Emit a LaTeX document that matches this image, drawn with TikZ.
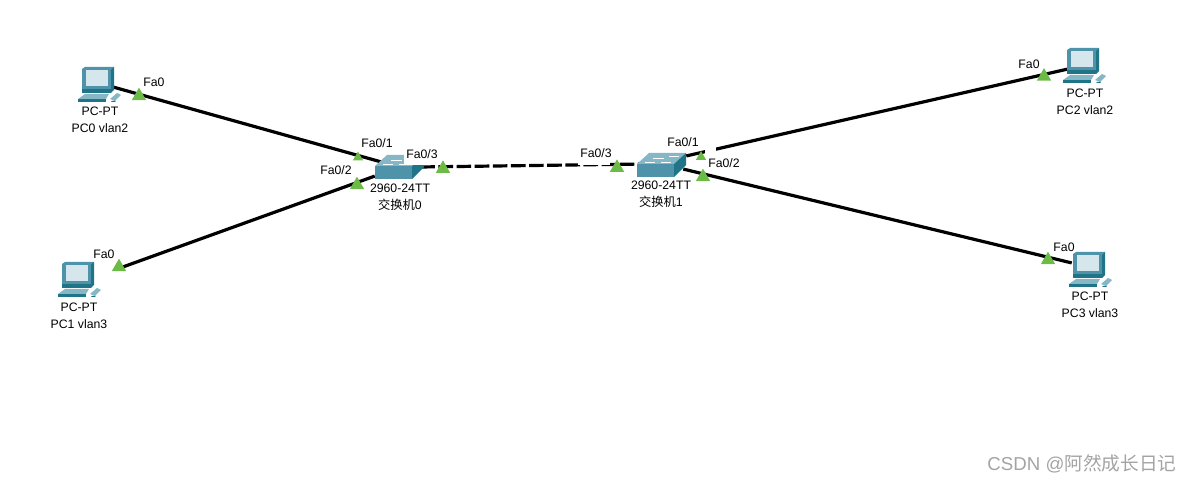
\documentclass[tikz,border=0pt]{standalone}
\usepackage{fontspec}
\setmainfont{Liberation Sans}
\newfontfamily\cjk{Noto Sans CJK SC}
\usetikzlibrary{shapes.geometric}
\definecolor{tealdk}{HTML}{1F7488}
\definecolor{tealmd}{HTML}{4F93AB}
\definecolor{teallt}{HTML}{86B7C7}
\definecolor{screen}{HTML}{D5E6EC}
\definecolor{portgreen}{HTML}{6CBB46}
\tikzset{
  x=0.75pt,y=-0.75pt,
  lbl/.style={font=\fontsize{9.2pt}{10.5pt}\selectfont,inner sep=0pt,align=center,text=black},
  plbl/.style={lbl,fill=white,inner xsep=0.5pt,inner ysep=0.5pt},
  port/.style={regular polygon,regular polygon sides=3,fill=portgreen,inner sep=0pt,minimum size=12.5pt},
  portsmall/.style={regular polygon,regular polygon sides=3,fill=portgreen,inner sep=0pt,minimum size=9pt},
  link/.style={line width=2.4pt,black},
  anchorpt/.style={inner sep=0pt,minimum size=0pt},
  pics/pcicon/.style={code={
    % monitor
    \fill[tealmd] (-15,-15) -- (-12,-17) -- (17,-17) -- (15,-14) -- (14,9) -- (-15,9) -- cycle;
    \fill[tealdk] (14,-14) -- (17,-17) -- (17,6) -- (14,9) -- cycle;
    \fill[screen] (-11.5,-13.5) rectangle (10.5,2.5);
    \fill[tealdk] (-15,5) rectangle (14,9);
    % base
    \fill[teallt] (-12,10) -- (12,10) -- (9,15) -- (-19,15) -- cycle;
    \fill[tealdk] (-19,15) rectangle (9,18);
    % mouse / keyboard
    \fill[teallt] (13,15) -- (20,9) -- (24,11) -- (18,17) -- cycle;
    \fill[tealdk] (15,17) -- (19,17) -- (18,18) -- (14,18) -- cycle;
  }},
  pics/swicon/.style={code={
    \fill[teallt] (-19,-5) -- (-7,-16) -- (30,-16) -- (18,-5) -- cycle;
    \fill[tealmd] (-19,-5) rectangle (18,8);
    \fill[tealdk] (18,-5) -- (30,-16) -- (30,-4) -- (18,8) -- cycle;
    \draw[white,line width=0.6pt] (-11,-7) -- (-1,-7) (-3,-11) -- (8,-11) (5,-7) -- (15,-7) (13,-13) -- (23,-13);
  }},
}
\begin{document}
\begin{tikzpicture}
\useasboundingbox (0,0) rectangle (1193,484);
% device anchors
\node[anchorpt] (pc0) at (113,87) {};
\node[anchorpt] (pc1) at (120,268) {};
\node[anchorpt] (pc2) at (1068,69) {};
\node[anchorpt] (pc3) at (1072,263) {};
\node[anchorpt] (sw0a) at (385,163) {};
\node[anchorpt] (sw0b) at (375,176) {};
\node[anchorpt] (sw0c) at (420,167) {};
\node[anchorpt] (sw1c) at (645,164) {};
\node[anchorpt] (sw1a) at (686,156) {};
\node[anchorpt] (sw1b) at (683,169) {};
% links
\draw[link] (pc0) -- (sw0a);
\draw[link] (pc1) -- (sw0b);
\draw[link,dash pattern=on 11pt off 2.6pt] (sw0c) -- (sw1c);
\draw[link] (sw1a) -- (pc2);
\draw[link] (sw1b) -- (pc3);
% icons
\pic at (97,84) {pcicon};
\pic at (77,279) {pcicon};
\pic at (1082,65) {pcicon};
\pic at (1088,269) {pcicon};
\pic at (394,171) {swicon};
\pic at (656,169) {swicon};
% label clearings
\fill[white] (404,146) rectangle (437,165.4);
\fill[white] (578,146) rectangle (610,165.4);
\fill[white] (705,147) rectangle (716,156);
% ports
\node[port] (p0) at (139,96) {};
\node[port] (p1) at (119,267) {};
\node[port] (p2) at (1044,76.5) {};
\node[port] (p3) at (1048,260) {};
\node[portsmall] (p4) at (358,157.5) {};
\node[port] (p5) at (357,185) {};
\node[port] (p6) at (443,168.7) {};
\node[port] (p7) at (617,167.7) {};
\node[portsmall] (p8) at (701,157) {};
\node[port] (p9) at (703,177) {};
% port labels
\node[plbl] (l0) at (154,82) {Fa0};
\node[plbl] (l1) at (104,254) {Fa0};
\node[plbl] (l2) at (1029,64) {Fa0};
\node[plbl] (l3) at (1064,247) {Fa0};
\node[plbl] (l4) at (377,143) {Fa0/1};
\node[plbl] (l5) at (336,170) {Fa0/2};
\node[plbl] (l6) at (422,154) {Fa0/3};
\node[plbl] (l7) at (596,153) {Fa0/3};
\node[plbl] (l8) at (683,142) {Fa0/1};
\node[plbl] (l9) at (724,163) {Fa0/2};
% device labels
\node[lbl] (n0) at (100,120) {PC-PT\\[2pt]PC0 vlan2};
\node[lbl] (n1) at (79,315.5) {PC-PT\\[2pt]PC1 vlan3};
\node[lbl] (n2) at (1085,102) {PC-PT\\[2pt]PC2 vlan2};
\node[lbl] (n3) at (1090,305) {PC-PT\\[2pt]PC3 vlan3};
\node[lbl] (n4) at (400,197) {2960-24TT\\[2pt]{\cjk 交换机}0};
\node[lbl] (n5) at (661,194) {2960-24TT\\[2pt]{\cjk 交换机}1};
\node[inner sep=0pt,text=black!36,font=\fontsize{14pt}{16pt}\selectfont] (wm) at (1082,464) {CSDN @{\cjk 阿然成长日记}};
\end{tikzpicture}
\end{document}
